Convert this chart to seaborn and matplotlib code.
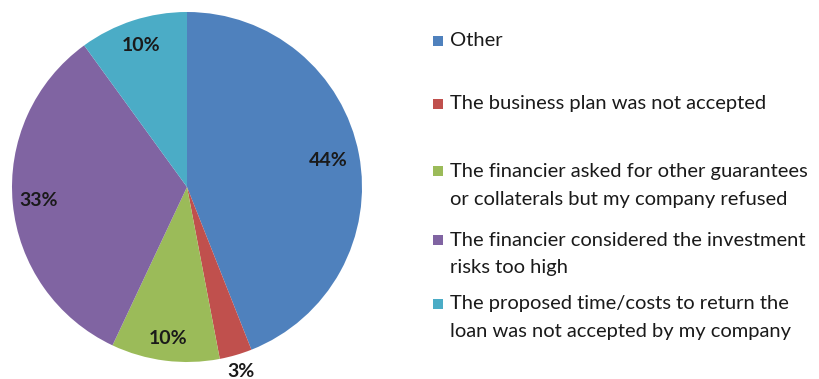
import numpy as np
import matplotlib
matplotlib.use("Agg")
import matplotlib.pyplot as plt
from matplotlib.patches import Rectangle
import seaborn as sns

categories = [
    "Other",
    "The business plan was not accepted",
    "The financier asked for other guarantees\nor collaterals but my company refused",
    "The financier considered the investment\nrisks too high",
    "The proposed time/costs to return the\nloan was not accepted by my company",
]
shares = [44, 3, 10, 33, 10]
colors = ["#4F81BD", "#C0504D", "#9BBB59", "#8064A2", "#4BACC6"]
# radial position of each percentage label (fraction of radius)
label_radius = [0.82, 1.10, 0.87, 0.85, 0.85]

sns.set_theme(style="white")
plt.rcParams["font.family"] = ["Lato", "DejaVu Sans"]

W, H = 819, 379
fig = plt.figure(figsize=(W / 100, H / 100), dpi=100)
fig.patch.set_facecolor("white")

cx, cy, r = 187, 187, 175
ax = fig.add_axes([(cx - r) / W, (H - cy - r) / H, 2 * r / W, 2 * r / H])
wedges, _ = ax.pie(shares, colors=colors, startangle=90, counterclock=False,
                   radius=1.0, wedgeprops=dict(linewidth=0))
ax.set_xlim(-1, 1)
ax.set_ylim(-1, 1)
ax.set_aspect("equal")
ax.axis("off")

for w, val, rr in zip(wedges, shares, label_radius):
    ang = np.deg2rad((w.theta1 + w.theta2) / 2)
    ax.text(rr * np.cos(ang), rr * np.sin(ang), f"{val}%", ha="center", va="center",
            fontsize=14, fontweight="bold", color="#1a1a1a")

# legend drawn as swatches plus wrapped labels
row_y = [41, 104, 171, 240, 304]
line_gap = 28
for name, col, y in zip(categories, colors, row_y):
    fig.add_artist(Rectangle(((433) / W, (H - y - 5) / H), 10 / W, 10 / H,
                             transform=fig.transFigure, facecolor=col, edgecolor="none"))
    for k, line in enumerate(name.split("\n")):
        fig.text(450 / W, (H - y - k * line_gap) / H, line, ha="left", va="center",
                 fontsize=14.5, color="#1a1a1a")

fig.savefig("out.png", dpi=100, facecolor="white")
